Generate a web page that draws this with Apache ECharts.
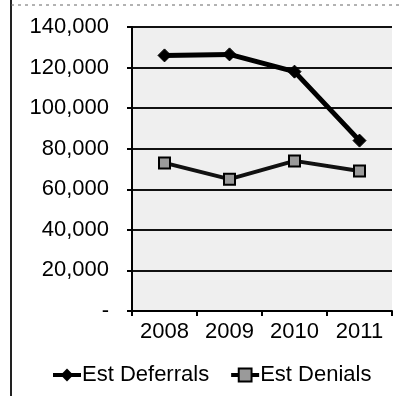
<!DOCTYPE html>
<html>
<head>
<meta charset="utf-8">
<script src="https://cdn.jsdelivr.net/npm/echarts@6/dist/echarts.min.js"></script>
<style>
  html, body { margin: 0; padding: 0; background: #fff; }
  #chart { width: 401px; height: 396px; }
</style>
</head>
<body>
<div id="chart"></div>
<script>
// Estimated yearly deferrals and denials
var years = ['2008', '2009', '2010', '2011'];
var estDeferrals = [126000, 126500, 118000, 84000];
var estDenials = [73000, 65000, 74000, 69000];
var yTicks = [0, 20000, 40000, 60000, 80000, 100000, 120000, 140000];

var FONT = '"Liberation Sans", Arial, sans-serif';

function fmtTick(v) {
  if (v === 0) return '-';
  return v.toLocaleString('en-US');
}

var chart = echarts.init(document.getElementById('chart'));
chart.setOption({
  animation: false,
  backgroundColor: '#fff',
  textStyle: { fontFamily: FONT },
  grid: {
    left: 132, right: 9, top: 27, bottom: 85,
    show: true, backgroundColor: '#efefef', borderWidth: 0
  },
  legend: {
    data: ['Est Deferrals', 'Est Denials'],
    bottom: 5,
    left: 46,
    itemGap: 20,
    itemWidth: 28,
    itemHeight: 16,
    lineStyle: { width: 4, color: '#000' },
    textStyle: { fontFamily: FONT, fontSize: 22, color: '#000', padding: [0, 0, 0, -4] }
  },
  xAxis: {
    type: 'category',
    data: years,
    boundaryGap: true,
    axisLine: { lineStyle: { color: '#000', width: 2 } },
    axisTick: { show: true, length: 5, lineStyle: { color: '#000', width: 2 } },
    axisLabel: { color: '#000', fontSize: 22, fontFamily: FONT, margin: 10 },
    splitLine: { show: false }
  },
  yAxis: {
    type: 'value',
    min: yTicks[0],
    max: yTicks[yTicks.length - 1],
    interval: yTicks[1] - yTicks[0],
    axisLine: { show: true, lineStyle: { color: '#000', width: 2 } },
    axisTick: { show: true, length: 5, lineStyle: { color: '#000', width: 2 } },
    axisLabel: { color: '#000', fontSize: 22, fontFamily: FONT, margin: 23, formatter: fmtTick },
    splitLine: { show: true, lineStyle: { color: '#111', width: 2 } }
  },
  series: [
    {
      name: 'Est Deferrals',
      type: 'line',
      data: estDeferrals,
      symbol: 'diamond',
      symbolSize: 13,
      lineStyle: { color: '#000', width: 5 },
      itemStyle: { color: '#000', borderColor: '#000' },
      z: 3
    },
    {
      name: 'Est Denials',
      type: 'line',
      data: estDenials,
      symbol: 'rect',
      symbolSize: 11,
      lineStyle: { color: '#111', width: 4 },
      itemStyle: { color: '#9a9a9a', borderColor: '#000', borderWidth: 2 },
      z: 2
    }
  ],
  graphic: [
    { type: 'line', shape: { x1: 11, y1: 0, x2: 11, y2: 396 }, style: { stroke: '#222', lineWidth: 2 } },
    { type: 'line', shape: { x1: 11, y1: 5, x2: 401, y2: 5 }, style: { stroke: '#666', lineWidth: 1, lineDash: [3, 4] } }
  ]
});
</script>
</body>
</html>
